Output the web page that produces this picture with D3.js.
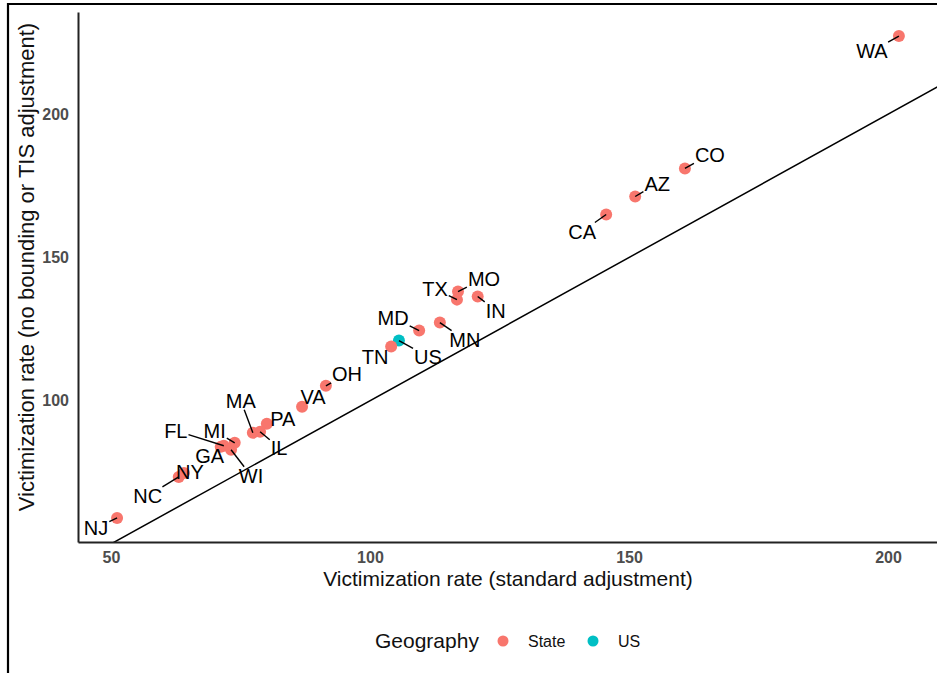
<!DOCTYPE html>
<html>
<head>
<meta charset="utf-8">
<script src="https://cdn.jsdelivr.net/npm/d3@7/dist/d3.min.js"></script>
<style>
  html, body { margin: 0; padding: 0; background: #fff; }
  svg { display: block; font-family: "Liberation Sans", Arial, Helvetica, sans-serif; }
</style>
</head>
<body>
<svg id="chart" width="937" height="673"></svg>
<script>
// Victimization rates by geography
const geoNames = ["WA","CO","AZ","CA","MO","TX","IN","MD","MN","US","TN","OH",
                  "VA","MA","PA","IL","FL","MI","GA","WI","NY","NC","NJ"];
const standardRate = [202.1,160.8,151.2,145.6,117.0,116.8,120.8,109.5,113.5,105.6,104.1,91.5,
                      86.9,77.4,80.1,78.8,71.8,73.9,71.2,73.2,64.1,63.1,51.2];
const noBoundingRate = [227.3,181.1,171.3,165.0,138.1,135.3,136.4,124.5,127.3,121.0,118.9,105.2,
                        97.9,88.8,92.0,89.2,84.3,85.3,83.9,82.9,74.8,73.4,59.1];
const geography = ["State","State","State","State","State","State","State","State","State","US","State","State",
                   "State","State","State","State","State","State","State","State","State","State","State"];
const geoLevels = ["State", "US"];
const xTickValues = [50, 100, 150, 200];
const yTickValues = [100, 150, 200];

// Repelled label placement: text centre offset from its point, in pixels
const labelOffset = {
  WA: [-27, 15], CO: [25, -14], AZ: [22, -13], CA: [-24, 17], MO: [26, -13],
  TX: [-22, -11], IN: [18, 14], MD: [-26, -13], MN: [25, 17], US: [29, 16],
  TN: [-16, 10], OH: [21, -12], VA: [11, -10], MA: [-12, -32], PA: [16, -5],
  IL: [19, 16], FL: [-48, -15], MI: [-20, -12], GA: [-11, 9], WI: [20, 26],
  NY: [6, -1], NC: [-31, 19], NJ: [-21, 10]
};

const data = geoNames.map((name, i) => ({
  name, x: standardRate[i], y: noBoundingRate[i], geo: geography[i]
}));

const svg = d3.select("#chart");
const panel = { left: 78, right: 938, top: 12, bottom: 542 };

// ggplot-style 5% expansion of the data range
function expand(ext) {
  const pad = (ext[1] - ext[0]) * 0.05;
  return [ext[0] - pad, ext[1] + pad];
}
const x = d3.scaleLinear().domain(expand(d3.extent(standardRate))).range([panel.left, panel.right]);
const y = d3.scaleLinear().domain(expand(d3.extent(noBoundingRate))).range([panel.bottom, panel.top]);
const color = d3.scaleOrdinal().domain(geoLevels).range(["#F8766D", "#00BFC4"]);

// outer frame (left and top edges)
svg.append("line").attr("x1", 8).attr("x2", 8).attr("y1", 3).attr("y2", 673)
  .attr("stroke", "#000").attr("stroke-width", 2.2);
svg.append("line").attr("x1", 7).attr("x2", 937).attr("y1", 4).attr("y2", 4)
  .attr("stroke", "#000").attr("stroke-width", 2.2);

svg.append("clipPath").attr("id", "panelClip").append("rect")
  .attr("x", panel.left).attr("y", panel.top)
  .attr("width", panel.right - panel.left).attr("height", panel.bottom - panel.top);

// identity line y = x
const xd = x.domain();
svg.append("line")
  .attr("clip-path", "url(#panelClip)")
  .attr("x1", x(xd[0])).attr("y1", y(xd[0]))
  .attr("x2", x(xd[1])).attr("y2", y(xd[1]))
  .attr("stroke", "#000").attr("stroke-width", 1.5);

// axes
const xAxis = svg.append("g").attr("transform", `translate(0,${panel.bottom})`)
  .call(d3.axisBottom(x).tickValues(xTickValues).tickSize(0).tickPadding(10));
const yAxis = svg.append("g").attr("transform", `translate(${panel.left},0)`)
  .call(d3.axisLeft(y).tickValues(yTickValues).tickSize(0).tickPadding(9));
[xAxis, yAxis].forEach(g => {
  g.select(".domain").attr("stroke", "#222").attr("stroke-width", 2);
  g.selectAll("text").attr("fill", "#4d4d4d").attr("font-size", 16)
    .attr("font-weight", "bold").attr("font-family", "Liberation Sans, Arial, sans-serif");
});

svg.append("text")
  .attr("x", (panel.left + panel.right) / 2).attr("y", 586)
  .attr("text-anchor", "middle").attr("font-size", 21).attr("fill", "#111")
  .text("Victimization rate (standard adjustment)");
svg.append("text")
  .attr("transform", `translate(34,${(panel.top + panel.bottom) / 2 - 10}) rotate(-90)`)
  .attr("text-anchor", "middle").attr("font-size", 22).attr("fill", "#111")
  .text("Victimization rate (no bounding or TIS adjustment)");

// points
const marks = svg.append("g");
marks.selectAll("circle").data(data).join("circle")
  .attr("cx", d => x(d.x)).attr("cy", d => y(d.y)).attr("r", 6)
  .attr("fill", d => color(d.geo));

// labels with leader segments
const labels = svg.append("g");
const segs = svg.append("g");
data.forEach(d => {
  const px = x(d.x), py = y(d.y);
  const off = labelOffset[d.name] || [0, 0];
  const cx = px + off[0], cy = py + off[1];
  const t = labels.append("text")
    .attr("x", cx).attr("y", cy).attr("dy", "0.36em")
    .attr("text-anchor", "middle").attr("font-size", 20).attr("fill", "#000")
    .text(d.name);
  const b = t.node().getBBox();
  const pad = 1;
  const bx0 = b.x - pad, bx1 = b.x + b.width + pad;
  const by0 = cy - 8 - pad, by1 = cy + 8 + pad;
  if (px >= bx0 && px <= bx1 && py >= by0 && py <= by1) return;
  // intersect segment point->centre with label box
  const dx = cx - px, dy = cy - py;
  let tmax = 1;
  const cand = [];
  if (dx !== 0) { cand.push((bx0 - px) / dx, (bx1 - px) / dx); }
  if (dy !== 0) { cand.push((by0 - py) / dy, (by1 - py) / dy); }
  cand.forEach(tv => {
    if (tv > 0 && tv < tmax) {
      const ix = px + tv * dx, iy = py + tv * dy;
      if (ix >= bx0 - 0.01 && ix <= bx1 + 0.01 && iy >= by0 - 0.01 && iy <= by1 + 0.01) tmax = tv;
    }
  });
  const ex = px + tmax * dx, ey = py + tmax * dy;
  if (Math.hypot(ex - px, ey - py) < 3) return;
  segs.append("line").attr("x1", px).attr("y1", py).attr("x2", ex).attr("y2", ey)
    .attr("stroke", "#000").attr("stroke-width", 1.4);
});

// legend
const legend = svg.append("g");
legend.append("text").attr("x", 375).attr("y", 648).attr("font-size", 21).attr("fill", "#111")
  .text("Geography");
const legendX = [503, 593];
geoLevels.forEach((lv, i) => {
  legend.append("circle").attr("cx", legendX[i]).attr("cy", 641).attr("r", 5.5).attr("fill", color(lv));
  legend.append("text").attr("x", legendX[i] + 25).attr("y", 647).attr("font-size", 16).attr("fill", "#111")
    .text(lv);
});
</script>
</body>
</html>
